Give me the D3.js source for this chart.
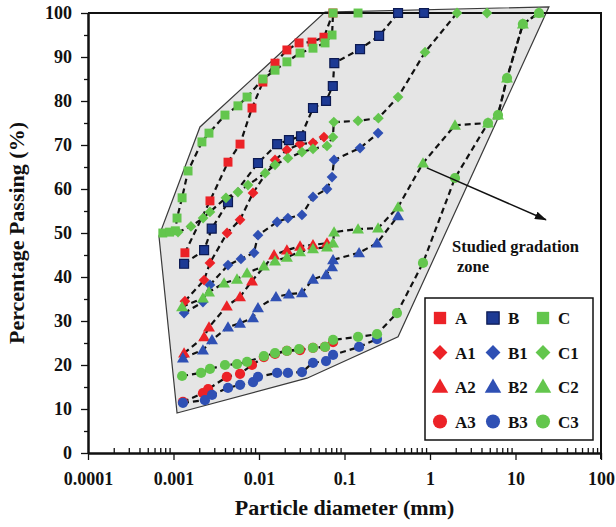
<!DOCTYPE html>
<html>
<head>
<meta charset="utf-8">
<script src="https://cdn.jsdelivr.net/npm/d3@7"></script>
<style>
body { margin: 0; background: #fff; }
svg text { font-family: "Liberation Serif", "Times New Roman", serif; font-weight: bold; fill: #111; }
</style>
</head>
<body>
<svg id="chart" width="616" height="527"></svg>
<script>
// particle size (mm), percent passing
const A  = [[0.00136,45.5],[0.00267,57.3],[0.00434,66.1],[0.006,70.2],[0.00828,78.4],[0.0111,84.3],[0.0154,88.6],[0.0212,91.6],[0.0294,93.2],[0.0417,93.4],[0.0575,94.5],[0.0732,100]];
const A1 = [[0.00136,34.5],[0.00228,39.3],[0.00267,43.2],[0.00423,50.0],[0.006,53.0],[0.00851,59.1],[0.0154,66.6],[0.0212,68.9],[0.0302,70.2],[0.0428,70.5],[0.0575,71.8]];
const A2 = [[0.00133,22.7],[0.00228,26.4],[0.0026,28.6],[0.0042,33.4],[0.006,35.5],[0.00828,39.1],[0.015,45.0],[0.0212,46.1],[0.0302,47.0],[0.0428,47.3],[0.0624,47.7]];
const A3 = [[0.00129,11.6],[0.00221,13.6],[0.00254,14.5],[0.0042,17.3],[0.006,18.0],[0.00828,20.0],[0.0114,21.8],[0.0154,22.5],[0.0212,23.2],[0.0302,23.4],[0.0428,23.9],[0.0592,24.1],[0.0735,25.2]];

const B  = [[0.00133,43.0],[0.00228,46.1],[0.0028,51.0],[0.00434,57.0],[0.00973,65.9],[0.0163,70.2],[0.0224,71.1],[0.031,72.0],[0.0428,78.4],[0.0608,80.0],[0.073,83.4],[0.076,88.6],[0.152,91.8],[0.254,94.8],[0.423,100],[0.851,100]];
const B1 = [[0.00133,31.8],[0.00221,34.3],[0.00267,38.2],[0.00434,42.7],[0.00615,44.1],[0.00875,45.5],[0.00973,49.5],[0.0163,52.5],[0.0218,53.4],[0.0318,54.1],[0.0428,58.2],[0.0624,60.0],[0.0715,62.7],[0.0755,66.6],[0.152,69.3],[0.247,72.7]];
const B2 = [[0.00129,21.6],[0.00221,23.4],[0.00282,25.7],[0.00434,28.6],[0.006,29.5],[0.00851,30.7],[0.00973,33.0],[0.0158,35.5],[0.0224,36.1],[0.0318,36.4],[0.0428,39.5],[0.0608,40.5],[0.0715,42.3],[0.0735,43.9],[0.148,45.5],[0.24,47.7],[0.423,53.9]];
const B3 = [[0.00129,11.4],[0.00233,12.0],[0.00282,13.2],[0.00434,14.8],[0.006,15.5],[0.00851,16.1],[0.00973,17.3],[0.0163,18.2],[0.0218,18.2],[0.0318,18.4],[0.0428,20.5],[0.0608,20.9],[0.0735,22.3],[0.148,24.1],[0.24,25.9]];

const C  = [[0.00075,50.0],[0.0009,50.2],[0.00105,50.5],[0.0011,53.4],[0.00126,58.0],[0.00148,64.1],[0.00215,70.7],[0.0026,72.7],[0.004,76.8],[0.00567,78.9],[0.00725,80.9],[0.0111,85.0],[0.0154,87.0],[0.0212,88.9],[0.0302,90.9],[0.0428,92.0],[0.0592,93.2],[0.0715,95.0],[0.0735,100],[0.144,100]];
const C1 = [[0.00113,50.2],[0.0016,51.5],[0.00222,53.4],[0.00267,54.8],[0.00411,58.0],[0.00567,59.3],[0.00743,60.9],[0.0118,63.6],[0.0154,65.5],[0.0218,67.0],[0.0318,68.4],[0.0428,69.1],[0.0624,69.8],[0.0732,71.8],[0.075,75.2],[0.144,75.5],[0.249,76.1],[0.423,80.9],[0.875,91.1],[2.07,100],[4.64,100]];
const C2 = [[0.00126,33.2],[0.00221,35.2],[0.0026,36.6],[0.0039,38.6],[0.00553,39.5],[0.00725,40.9],[0.0114,42.5],[0.0154,43.6],[0.0212,44.5],[0.0302,45.7],[0.0428,46.4],[0.0624,46.8],[0.0735,47.7],[0.0755,50.2],[0.144,50.9],[0.247,51.1],[0.423,55.9],[0.828,65.9],[1.96,74.5],[4.77,75.0],[6.24,76.8],[7.96,85.2],[12.2,97.5],[18.8,100]];
const C3 = [[0.00126,17.5],[0.0021,18.2],[0.00267,19.1],[0.004,20.0],[0.00553,20.2],[0.00725,20.7],[0.0114,22.0],[0.0154,22.7],[0.0212,23.2],[0.0294,23.6],[0.0428,23.9],[0.0592,24.1],[0.0735,25.7],[0.144,26.4],[0.24,27.0],[0.411,31.8],[0.828,43.2],[1.96,62.5],[4.77,75.0],[6.24,76.8],[7.96,85.2],[12.2,97.5],[18.8,100]];

// outline of the studied gradation zone
const zone = [[0.0011,9.1],[0.0364,17],[0.423,26.4],[24.6,101.4],[0.0592,100.2],[0.00204,74.1],[0.000676,49.3]];

const xTicks = [0.0001, 0.001, 0.01, 0.1, 1, 10, 100];
const xTickLabels = ["0.0001", "0.001", "0.01", "0.1", "1", "10", "100"];
const yTicks = [0, 10, 20, 30, 40, 50, 60, 70, 80, 90, 100];

const red = "#ec2227", blue = "#2f50b4", navy = "#1d3a94", green = "#63c64d";

const series = [
    { name: "A",  data: A,  color: red,   shape: "square" },
    { name: "A1", data: A1, color: red,   shape: "diamond" },
    { name: "A2", data: A2, color: red,   shape: "triangle" },
    { name: "A3", data: A3, color: red,   shape: "circle" },
    { name: "B",  data: B,  color: navy,  shape: "square" },
    { name: "B1", data: B1, color: blue,  shape: "diamond" },
    { name: "B2", data: B2, color: blue,  shape: "triangle" },
    { name: "B3", data: B3, color: blue,  shape: "circle" },
    { name: "C",  data: C,  color: green, shape: "square" },
    { name: "C1", data: C1, color: green, shape: "diamond" },
    { name: "C2", data: C2, color: green, shape: "triangle" },
    { name: "C3", data: C3, color: green, shape: "circle" },
];

const svg = d3.select("#chart");
const x = d3.scaleLog().domain([1e-4, 100]).range([88, 601]);
const y = d3.scaleLinear().domain([0, 100]).range([453, 13]);

function symbolPath(shape, scale) {
    const k = scale || 1;
    switch (shape) {
        case "square":   return d3.symbol(d3.symbolSquare, 80 * k)();
        case "diamond":  return d3.symbol(d3.symbolSquare, 58 * k)();
        case "triangle": return d3.symbol(d3.symbolTriangle, 62 * k)();
        default:         return d3.symbol(d3.symbolCircle, 82 * k)();
    }
}

function drawMarker(g, s, px, py, scale) {
    g.append("path")
        .attr("d", symbolPath(s.shape, scale))
        .attr("transform", `translate(${px},${py})` + (s.shape === "diamond" ? " rotate(45)" : "") +
            (s.shape === "triangle" ? " translate(0,1)" : ""))
        .attr("fill", s.color)
        .attr("stroke", s.name === "B" ? "#0c1a52" : "none")
        .attr("stroke-width", 1.2);
}

// zone
svg.append("path")
    .datum(zone)
    .attr("d", d3.line().x(d => x(d[0])).y(d => y(d[1])).curve(d3.curveLinearClosed))
    .attr("fill", "#e5e5e5")
    .attr("stroke", "#3a3a3a")
    .attr("stroke-width", 1.2);

// axes
svg.append("g")
    .attr("transform", `translate(${x(1e-4)},0)`)
    .call(d3.axisLeft(y).tickValues(yTicks).tickSize(7).tickPadding(9).tickSizeOuter(0));
svg.append("g")
    .attr("transform", `translate(${x(1e-4)},0)`)
    .call(d3.axisLeft(y).tickValues(d3.range(5, 100, 10)).tickSize(4).tickFormat("").tickSizeOuter(0));

const minorX = [];
for (let e = -4; e < 2; e++) {
    for (let k = 2; k < 10; k++) minorX.push(k * Math.pow(10, e));
}
svg.append("g")
    .attr("transform", `translate(0,${y(0)})`)
    .call(d3.axisBottom(x).tickValues(xTicks).tickFormat((d, i) => xTickLabels[i])
        .tickSize(7).tickPadding(12).tickSizeOuter(0));
svg.append("g")
    .attr("transform", `translate(0,${y(0)})`)
    .call(d3.axisBottom(x).tickValues(minorX).tickSize(-5).tickFormat("").tickSizeOuter(0));

svg.selectAll(".domain").attr("stroke", "#111").attr("stroke-width", 2);
svg.selectAll(".tick line").attr("stroke", "#111").attr("stroke-width", 1.3);
svg.selectAll(".tick text").style("font-size", "18px").attr("fill", "#111");

// frame top and right
svg.append("path")
    .attr("d", `M${x(1e-4)},${y(100)}H${x(100)}V${y(0) + 6}`)
    .attr("fill", "none")
    .attr("stroke", "#111")
    .attr("stroke-width", 2);

// dashed gradation curves
const line = d3.line().x(d => x(d[0])).y(d => y(d[1]));
svg.append("g").selectAll("path")
    .data(series)
    .join("path")
    .attr("d", d => line(d.data))
    .attr("fill", "none")
    .attr("stroke", "#111")
    .attr("stroke-width", 2.2)
    .attr("stroke-dasharray", "6,4");

// markers
const marks = svg.append("g");
for (let s of series) {
    for (let p of s.data) {
        drawMarker(marks, s, x(p[0]), y(p[1]));
    }
}

// annotation
svg.append("defs").append("marker")
    .attr("id", "arrowhead")
    .attr("markerWidth", 12)
    .attr("markerHeight", 8)
    .attr("refX", 11)
    .attr("refY", 4)
    .attr("orient", "auto")
    .attr("markerUnits", "userSpaceOnUse")
    .append("polygon")
    .attr("points", "0 0, 12 4, 0 8")
    .attr("fill", "#111");

svg.append("line")
    .attr("x1", x(0.92)).attr("y1", y(64.8))
    .attr("x2", x(22.7)).attr("y2", y(53))
    .attr("stroke", "#111")
    .attr("stroke-width", 1.5)
    .attr("marker-end", "url(#arrowhead)");

svg.append("text")
    .attr("x", 452).attr("y", 252)
    .style("font-size", "16.5px")
    .text("Studied gradation");
svg.append("text")
    .attr("x", 457).attr("y", 272)
    .style("font-size", "16.5px")
    .text("zone");

// legend
const legend = svg.append("g").attr("transform", "translate(425,298)");
legend.append("rect")
    .attr("width", 168).attr("height", 142)
    .attr("fill", "#fff")
    .attr("stroke", "#111")
    .attr("stroke-width", 1.5);
const legendRows = [["A", "B", "C"], ["A1", "B1", "C1"], ["A2", "B2", "C2"], ["A3", "B3", "C3"]];
const colX = [15, 68, 118];
legendRows.forEach((row, r) => {
    row.forEach((name, c) => {
        const s = series.find(d => d.name === name);
        const cy = 20 + r * 34.5;
        drawMarker(legend, s, colX[c], cy, 1.9);
        legend.append("text")
            .attr("x", colX[c] + 15)
            .attr("y", cy + 6)
            .style("font-size", "17px")
            .text(name);
    });
});

// axis titles
svg.append("text")
    .attr("x", (x(1e-4) + x(100)) / 2)
    .attr("y", 515)
    .attr("text-anchor", "middle")
    .style("font-size", "22px")
    .text("Particle diameter (mm)");

svg.append("text")
    .attr("transform", `translate(24,${(y(0) + y(100)) / 2}) rotate(-90)`)
    .attr("text-anchor", "middle")
    .style("font-size", "22px")
    .text("Percentage Passing (%)");
</script>
</body>
</html>
